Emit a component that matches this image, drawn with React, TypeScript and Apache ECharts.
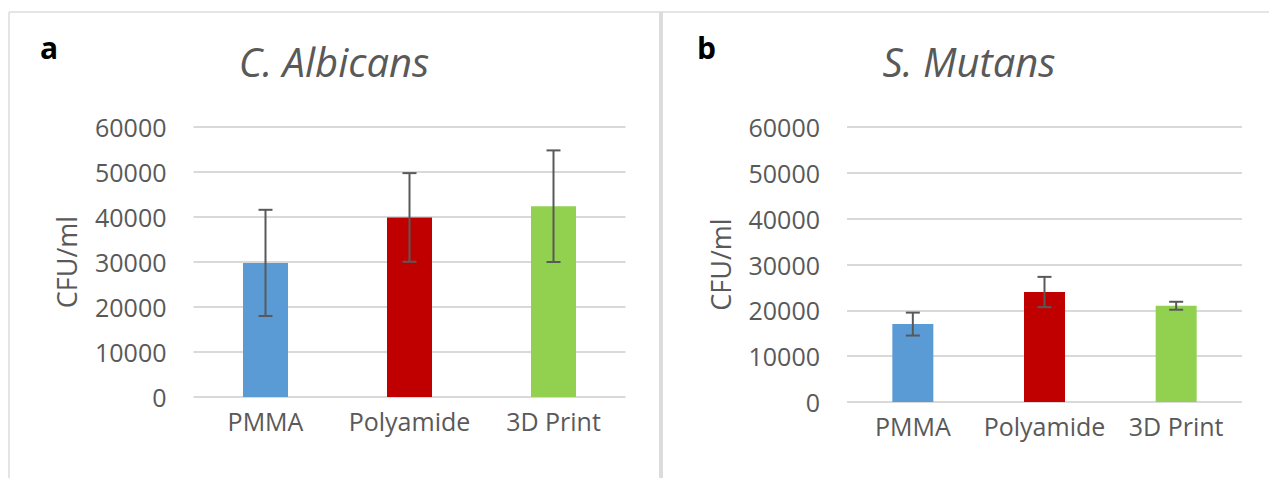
import React, { useEffect, useRef } from "react";
import * as echarts from "echarts";

const categories = ["PMMA", "Polyamide", "3D Print"];
const barColors = ["#5B9BD5", "#C00000", "#92D050"];

const albicansMean = [29800, 39900, 42400];
const albicansErr = [11800, 9850, 12400];

const mutansMean = [17000, 24000, 21000];
const mutansErr = [2500, 3300, 870];

const yTicks = { min: 0, max: 60000, interval: 10000 };

const FONT = "'Open Sans', sans-serif";
const TEXT = "#595959";

function errorData(mean: number[], err: number[]) {
  return mean.map((m, i) => [i, m - err[i], m + err[i]]);
}

function errorRender(capHalf: number) {
  return (params: any, api: any) => {
    const x = api.value(0);
    const lo = api.coord([x, api.value(1)]);
    const hi = api.coord([x, api.value(2)]);
    const style = { stroke: "#595959", lineWidth: 2 };
    return {
      type: "group",
      children: [
        { type: "line", shape: { x1: hi[0], y1: hi[1], x2: lo[0], y2: lo[1] }, style },
        { type: "line", shape: { x1: hi[0] - capHalf, y1: hi[1], x2: hi[0] + capHalf, y2: hi[1] }, style },
        { type: "line", shape: { x1: lo[0] - capHalf, y1: lo[1], x2: lo[0] + capHalf, y2: lo[1] }, style },
      ],
    };
  };
}

export default function App() {
  const ref = useRef<HTMLDivElement>(null);
  useEffect(() => {
    if (!ref.current) return;
    const chart = echarts.init(ref.current, null, { renderer: "svg" });
    const xAxisBase = (gridIndex: number) => ({
      type: "category",
      gridIndex,
      data: categories,
      axisLine: { show: false },
      axisTick: { show: false },
      axisLabel: {
        color: TEXT,
        fontSize: 25,
        fontFamily: FONT,
        margin: 11,
        interval: 0,
        hideOverlap: false,
      },
    });
    const yAxisBase = (gridIndex: number, gap: number) => ({
      type: "value",
      gridIndex,
      min: yTicks.min,
      max: yTicks.max,
      interval: yTicks.interval,
      name: "CFU/ml",
      nameLocation: "middle",
      nameGap: gap,
      nameTextStyle: { color: TEXT, fontSize: 27, fontFamily: FONT },
      axisLine: { show: false },
      axisTick: { show: false },
      axisLabel: {
        color: TEXT,
        fontSize: 25,
        fontFamily: FONT,
        margin: 27,
        formatter: (v: number) => String(v),
      },
      splitLine: { lineStyle: { color: "#D9D9D9", width: 2 } },
    });
    const barSeries = (idx: number, mean: number[], width: number) => ({
      type: "bar",
      xAxisIndex: idx,
      yAxisIndex: idx,
      barWidth: width,
      data: mean.map((v, i) => ({ value: v, itemStyle: { color: barColors[i] } })),
    });
    chart.setOption({
      animation: false,
      backgroundColor: "#ffffff",
      grid: [
        { left: 193.5, top: 127, width: 432, height: 270 },
        { left: 847, top: 127, width: 395, height: 275 },
      ],
      xAxis: [xAxisBase(0), xAxisBase(1)],
      yAxis: [yAxisBase(0, 114), yAxisBase(1, 113)],
      series: [
        barSeries(0, albicansMean, 45),
        barSeries(1, mutansMean, 41),
        {
          type: "custom",
          xAxisIndex: 0,
          yAxisIndex: 0,
          data: errorData(albicansMean, albicansErr),
          renderItem: errorRender(7),
          z: 5,
        },
        {
          type: "custom",
          xAxisIndex: 1,
          yAxisIndex: 1,
          data: errorData(mutansMean, mutansErr),
          renderItem: errorRender(7),
          z: 5,
        },
      ],
      graphic: [
        { type: "line", shape: { x1: 9, y1: 12, x2: 1269, y2: 12 }, style: { stroke: "#DCDCDC", lineWidth: 1.5 } },
        { type: "line", shape: { x1: 9, y1: 12, x2: 9, y2: 478 }, style: { stroke: "#DCDCDC", lineWidth: 1.5 } },
        { type: "line", shape: { x1: 661, y1: 12, x2: 661, y2: 478 }, style: { stroke: "#DCDCDC", lineWidth: 4 } },
        {
          type: "text",
          x: 40,
          y: 47,
          style: { text: "a", fill: "#000", font: `bold 30px ${FONT}`, textVerticalAlign: "middle" },
        },
        {
          type: "text",
          x: 697,
          y: 47,
          style: { text: "b", fill: "#000", font: `bold 30px ${FONT}`, textVerticalAlign: "middle" },
        },
        {
          type: "text",
          x: 334,
          y: 61,
          style: {
            text: "C. Albicans",
            fill: TEXT,
            font: `italic 40px ${FONT}`,
            textAlign: "center",
            textVerticalAlign: "middle",
          },
        },
        {
          type: "text",
          x: 969,
          y: 61,
          style: {
            text: "S. Mutans",
            fill: TEXT,
            font: `italic 40px ${FONT}`,
            textAlign: "center",
            textVerticalAlign: "middle",
          },
        },
      ],
    });
    return () => chart.dispose();
  }, []);
  return (
    <div
      ref={ref}
      style={{ position: "fixed", left: 0, top: 0, width: 1269, height: 478, background: "#fff" }}
    />
  );
}
